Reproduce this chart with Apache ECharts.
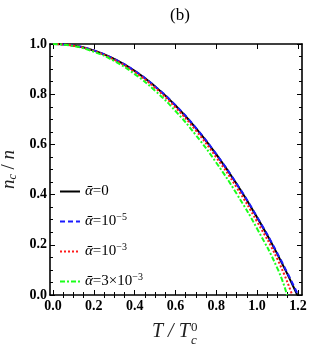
<!DOCTYPE html>
<html>
<head>
<meta charset="utf-8">
<script src="https://cdn.jsdelivr.net/npm/echarts@6/dist/echarts.min.js"></script>
<style>
  html, body { margin: 0; padding: 0; background: #fff; }
  #chart { width: 325px; height: 350px; }
</style>
</head>
<body>
<div id="chart"></div>
<script>
// T / Tc0 sample points
const tVals = [0, 0.1, 0.2, 0.3, 0.4, 0.5, 0.6, 0.7, 0.8, 0.9, 1.0, 1.1];
// n_c / n, plus the end point where each curve hits zero
const alpha0 = [1.000, 0.994, 0.974, 0.940, 0.893, 0.831, 0.755, 0.665, 0.560, 0.442, 0.309, 0.162];
const alpha0End = 1.197;
const alpha1e5 = [1.000, 0.994, 0.974, 0.940, 0.893, 0.831, 0.756, 0.666, 0.561, 0.443, 0.311, 0.165];
const alpha1e5End = 1.201;
const alpha1e3 = [1.000, 0.993, 0.972, 0.937, 0.888, 0.825, 0.747, 0.655, 0.548, 0.428, 0.292, 0.142];
const alpha1e3End = 1.172;
const alpha3e3 = [1.000, 0.992, 0.969, 0.932, 0.880, 0.814, 0.733, 0.637, 0.527, 0.403, 0.264, 0.105];
const alpha3e3End = 1.147;

const xMajor = [0, 0.2, 0.4, 0.6, 0.8, 1.0, 1.2];
const xMinor = [0.05, 0.1, 0.15, 0.25, 0.3, 0.35, 0.45, 0.5, 0.55, 0.65, 0.7, 0.75,
  0.85, 0.9, 0.95, 1.05, 1.1, 1.15];

const legendNames = ["a0", "a1e5", "a1e3", "a3e3"];
const legendText = {
  a0: "{a|ᾱ}{t|=0}",
  a1e5: "{a|ᾱ}{t|=10}{s|−5}",
  a1e3: "{a|ᾱ}{t|=10}{s|−3}",
  a3e3: "{a|ᾱ}{t|=3×10}{s|−3}",
};

const toPairs = (vals, end) => {
  let out = tVals.map((t, i) => [t, vals[i]]);
  out.push([end, 0]);
  return out;
};

const serif = "Liberation Serif";
const myChart = echarts.init(document.getElementById("chart"), null, { renderer: "canvas" });

const baseX = {
  type: "value",
  min: -0.015,
  max: 1.22,
  splitLine: { show: false },
  axisLine: { show: true, onZero: false, lineStyle: { color: "#000", width: 1.6 } },
};
const baseY = {
  type: "value",
  min: 0,
  max: 1,
  interval: 0.2,
  splitLine: { show: false },
  axisLine: { show: true, onZero: false, lineStyle: { color: "#000", width: 1.6 } },
  axisTick: { show: true, inside: true, length: 5, lineStyle: { color: "#000", width: 1 } },
  minorTick: { show: true, splitNumber: 4, length: 3, lineStyle: { color: "#000", width: 1 } },
};

const mkSeries = (name, data, color, type) => ({
  name: name,
  type: "line",
  data: data,
  smooth: true,
  symbol: "none",
  showSymbol: false,
  animation: false,
  lineStyle: { color: color, width: 2, type: type },
  itemStyle: { color: color },
});

let option = {
  animation: false,
  title: {
    text: "(b)",
    left: 175,
    top: 2,
    textAlign: "center",
    textStyle: { fontFamily: serif, fontWeight: "normal", fontSize: 17, color: "#000" },
  },
  grid: { left: 50, right: 23, top: 44, bottom: 55, outerBoundsMode: "none", containLabel: false },
  legend: {
    orient: "vertical",
    left: 54,
    top: 179,
    itemWidth: 20,
    itemHeight: 12,
    itemGap: 13,
    data: legendNames,
    itemStyle: { opacity: 0 },
    formatter: (name) => legendText[name],
    textStyle: {
      color: "#000",
      rich: {
        a: { fontFamily: serif, fontStyle: "italic", fontSize: 15, color: "#000" },
        t: { fontFamily: serif, fontSize: 15, color: "#000" },
        s: { fontFamily: serif, fontSize: 10, color: "#000", verticalAlign: "top", padding: [0, 0, 9, 0] },
      },
    },
  },
  xAxis: [
    Object.assign({}, baseX, {
      position: "bottom",
      axisTick: { show: true, inside: true, length: 5, customValues: xMajor, lineStyle: { color: "#000", width: 1 } },
      axisLabel: {
        show: true,
        customValues: xMajor,
        margin: 4,
        formatter: (v) => v.toFixed(1),
        fontFamily: serif,
        fontWeight: "bold",
        fontSize: 14,
        color: "#000",
      },
    }),
    Object.assign({}, baseX, {
      position: "top",
      axisTick: { show: true, inside: true, length: 5, customValues: xMajor, lineStyle: { color: "#000", width: 1 } },
      axisLabel: { show: false },
    }),
    Object.assign({}, baseX, {
      position: "bottom",
      axisLine: { show: false },
      axisTick: { show: true, inside: true, length: 3, customValues: xMinor, lineStyle: { color: "#000", width: 1 } },
      axisLabel: { show: false },
    }),
    Object.assign({}, baseX, {
      position: "top",
      axisLine: { show: false },
      axisTick: { show: true, inside: true, length: 3, customValues: xMinor, lineStyle: { color: "#000", width: 1 } },
      axisLabel: { show: false },
    }),
  ],
  yAxis: [
    Object.assign({}, baseY, {
      position: "left",
      name: "{i|n}{c|c}{t| / }{i|n}",
      nameLocation: "middle",
      nameRotate: 90,
      nameGap: 31,
      nameTextStyle: {
        rich: {
          i: { fontFamily: serif, fontStyle: "italic", fontSize: 19, color: "#222" },
          t: { fontFamily: serif, fontSize: 19, color: "#222" },
          c: { fontFamily: serif, fontStyle: "italic", fontSize: 12, color: "#222", verticalAlign: "bottom", padding: [6, 0, 0, 0] },
        },
      },
      axisLabel: {
        show: true,
        margin: 3,
        formatter: (v) => v.toFixed(1),
        fontFamily: serif,
        fontWeight: "bold",
        fontSize: 14,
        color: "#000",
      },
    }),
    Object.assign({}, baseY, {
      position: "right",
      axisLabel: { show: false },
    }),
  ],
  graphic: [
    {
      type: "text",
      left: 152,
      top: 322,
      style: { text: "T / T", font: "italic 20px 'Liberation Serif'", fill: "#222" },
    },
    {
      type: "text",
      left: 191,
      top: 321,
      style: { text: "0", font: "13px 'Liberation Serif'", fill: "#222" },
    },
    {
      type: "text",
      left: 191,
      top: 334,
      style: { text: "c", font: "italic 13px 'Liberation Serif'", fill: "#222" },
    },
  ],
  series: [
    mkSeries("a0", toPairs(alpha0, alpha0End), "#000000", "solid"),
    mkSeries("a1e5", toPairs(alpha1e5, alpha1e5End), "#1a1aff", [5, 3]),
    mkSeries("a1e3", toPairs(alpha1e3, alpha1e3End), "#ff1a1a", [2, 2]),
    mkSeries("a3e3", toPairs(alpha3e3, alpha3e3End), "#1aff1a", [5, 2, 2, 2]),
  ],
};
myChart.setOption(option);
</script>
</body>
</html>
